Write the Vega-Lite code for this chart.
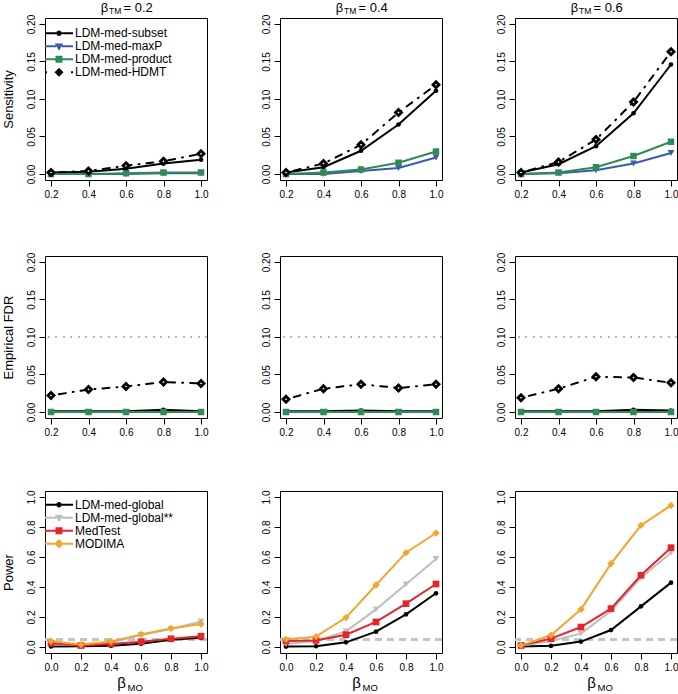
{
"$schema": "https://vega.github.io/schema/vega-lite/v6.json",
"padding": {"left": 1, "top": 0, "right": 0, "bottom": 0},
"config": {
 "font": "Liberation Sans",
 "view": {"stroke": "black", "strokeWidth": 1},
 "axis": {"domain": false, "grid": false, "tickColor": "black", "tickSize": 6, "labelFont": "Liberation Sans", "labelFontSize": 10, "labelColor": "black", "labelPadding": 3, "titleFont": "Liberation Sans", "titleFontWeight": "normal", "titleColor": "black"},
 "axisY": {"labelAngle": -90, "labelAlign": "center", "labelBaseline": "bottom"},
 "legend": {"labelFont": "Liberation Sans", "labelFontSize": 12, "labelColor": "black", "labelOffset": 1, "rowPadding": 0, "padding": 0, "symbolSize": 784, "symbolOpacity": 1, "clipHeight": 12.5}
},
"datasets": {
 "sens": [
  {"tm":0.2,"mo":0.2,"method":"LDM-med-subset","value":0.002},{"tm":0.2,"mo":0.4,"method":"LDM-med-subset","value":0.003},{"tm":0.2,"mo":0.6,"method":"LDM-med-subset","value":0.007},{"tm":0.2,"mo":0.8,"method":"LDM-med-subset","value":0.014},{"tm":0.2,"mo":1.0,"method":"LDM-med-subset","value":0.019},
  {"tm":0.2,"mo":0.2,"method":"LDM-med-maxP","value":0.0},{"tm":0.2,"mo":0.4,"method":"LDM-med-maxP","value":0.0},{"tm":0.2,"mo":0.6,"method":"LDM-med-maxP","value":0.0},{"tm":0.2,"mo":0.8,"method":"LDM-med-maxP","value":0.001},{"tm":0.2,"mo":1.0,"method":"LDM-med-maxP","value":0.001},
  {"tm":0.2,"mo":0.2,"method":"LDM-med-product","value":0.0},{"tm":0.2,"mo":0.4,"method":"LDM-med-product","value":0.0},{"tm":0.2,"mo":0.6,"method":"LDM-med-product","value":0.001},{"tm":0.2,"mo":0.8,"method":"LDM-med-product","value":0.002},{"tm":0.2,"mo":1.0,"method":"LDM-med-product","value":0.002},
  {"tm":0.2,"mo":0.2,"method":"LDM-med-HDMT","value":0.002},{"tm":0.2,"mo":0.4,"method":"LDM-med-HDMT","value":0.004},{"tm":0.2,"mo":0.6,"method":"LDM-med-HDMT","value":0.011},{"tm":0.2,"mo":0.8,"method":"LDM-med-HDMT","value":0.017},{"tm":0.2,"mo":1.0,"method":"LDM-med-HDMT","value":0.027},
  {"tm":0.4,"mo":0.2,"method":"LDM-med-subset","value":0.002},{"tm":0.4,"mo":0.4,"method":"LDM-med-subset","value":0.009},{"tm":0.4,"mo":0.6,"method":"LDM-med-subset","value":0.031},{"tm":0.4,"mo":0.8,"method":"LDM-med-subset","value":0.066},{"tm":0.4,"mo":1.0,"method":"LDM-med-subset","value":0.111},
  {"tm":0.4,"mo":0.2,"method":"LDM-med-maxP","value":0.0},{"tm":0.4,"mo":0.4,"method":"LDM-med-maxP","value":0.0},{"tm":0.4,"mo":0.6,"method":"LDM-med-maxP","value":0.004},{"tm":0.4,"mo":0.8,"method":"LDM-med-maxP","value":0.008},{"tm":0.4,"mo":1.0,"method":"LDM-med-maxP","value":0.022},
  {"tm":0.4,"mo":0.2,"method":"LDM-med-product","value":0.0},{"tm":0.4,"mo":0.4,"method":"LDM-med-product","value":0.002},{"tm":0.4,"mo":0.6,"method":"LDM-med-product","value":0.006},{"tm":0.4,"mo":0.8,"method":"LDM-med-product","value":0.015},{"tm":0.4,"mo":1.0,"method":"LDM-med-product","value":0.030},
  {"tm":0.4,"mo":0.2,"method":"LDM-med-HDMT","value":0.002},{"tm":0.4,"mo":0.4,"method":"LDM-med-HDMT","value":0.014},{"tm":0.4,"mo":0.6,"method":"LDM-med-HDMT","value":0.039},{"tm":0.4,"mo":0.8,"method":"LDM-med-HDMT","value":0.082},{"tm":0.4,"mo":1.0,"method":"LDM-med-HDMT","value":0.119},
  {"tm":0.6,"mo":0.2,"method":"LDM-med-subset","value":0.002},{"tm":0.6,"mo":0.4,"method":"LDM-med-subset","value":0.013},{"tm":0.6,"mo":0.6,"method":"LDM-med-subset","value":0.037},{"tm":0.6,"mo":0.8,"method":"LDM-med-subset","value":0.081},{"tm":0.6,"mo":1.0,"method":"LDM-med-subset","value":0.146},
  {"tm":0.6,"mo":0.2,"method":"LDM-med-maxP","value":0.0},{"tm":0.6,"mo":0.4,"method":"LDM-med-maxP","value":0.001},{"tm":0.6,"mo":0.6,"method":"LDM-med-maxP","value":0.005},{"tm":0.6,"mo":0.8,"method":"LDM-med-maxP","value":0.014},{"tm":0.6,"mo":1.0,"method":"LDM-med-maxP","value":0.028},
  {"tm":0.6,"mo":0.2,"method":"LDM-med-product","value":0.0},{"tm":0.6,"mo":0.4,"method":"LDM-med-product","value":0.002},{"tm":0.6,"mo":0.6,"method":"LDM-med-product","value":0.009},{"tm":0.6,"mo":0.8,"method":"LDM-med-product","value":0.024},{"tm":0.6,"mo":1.0,"method":"LDM-med-product","value":0.043},
  {"tm":0.6,"mo":0.2,"method":"LDM-med-HDMT","value":0.002},{"tm":0.6,"mo":0.4,"method":"LDM-med-HDMT","value":0.016},{"tm":0.6,"mo":0.6,"method":"LDM-med-HDMT","value":0.046},{"tm":0.6,"mo":0.8,"method":"LDM-med-HDMT","value":0.096},{"tm":0.6,"mo":1.0,"method":"LDM-med-HDMT","value":0.163}
 ],
 "fdr": [
  {"tm":0.2,"mo":0.2,"method":"LDM-med-subset","value":0.001},{"tm":0.2,"mo":0.4,"method":"LDM-med-subset","value":0.001},{"tm":0.2,"mo":0.6,"method":"LDM-med-subset","value":0.001},{"tm":0.2,"mo":0.8,"method":"LDM-med-subset","value":0.003},{"tm":0.2,"mo":1.0,"method":"LDM-med-subset","value":0.001},
  {"tm":0.2,"mo":0.2,"method":"LDM-med-maxP","value":0.0},{"tm":0.2,"mo":0.4,"method":"LDM-med-maxP","value":0.0},{"tm":0.2,"mo":0.6,"method":"LDM-med-maxP","value":0.0},{"tm":0.2,"mo":0.8,"method":"LDM-med-maxP","value":0.0},{"tm":0.2,"mo":1.0,"method":"LDM-med-maxP","value":0.0},
  {"tm":0.2,"mo":0.2,"method":"LDM-med-product","value":0.0},{"tm":0.2,"mo":0.4,"method":"LDM-med-product","value":0.0},{"tm":0.2,"mo":0.6,"method":"LDM-med-product","value":0.0},{"tm":0.2,"mo":0.8,"method":"LDM-med-product","value":0.0},{"tm":0.2,"mo":1.0,"method":"LDM-med-product","value":0.0},
  {"tm":0.2,"mo":0.2,"method":"LDM-med-HDMT","value":0.022},{"tm":0.2,"mo":0.4,"method":"LDM-med-HDMT","value":0.030},{"tm":0.2,"mo":0.6,"method":"LDM-med-HDMT","value":0.034},{"tm":0.2,"mo":0.8,"method":"LDM-med-HDMT","value":0.040},{"tm":0.2,"mo":1.0,"method":"LDM-med-HDMT","value":0.038},
  {"tm":0.4,"mo":0.2,"method":"LDM-med-subset","value":0.001},{"tm":0.4,"mo":0.4,"method":"LDM-med-subset","value":0.001},{"tm":0.4,"mo":0.6,"method":"LDM-med-subset","value":0.002},{"tm":0.4,"mo":0.8,"method":"LDM-med-subset","value":0.001},{"tm":0.4,"mo":1.0,"method":"LDM-med-subset","value":0.001},
  {"tm":0.4,"mo":0.2,"method":"LDM-med-maxP","value":0.0},{"tm":0.4,"mo":0.4,"method":"LDM-med-maxP","value":0.0},{"tm":0.4,"mo":0.6,"method":"LDM-med-maxP","value":0.0},{"tm":0.4,"mo":0.8,"method":"LDM-med-maxP","value":0.0},{"tm":0.4,"mo":1.0,"method":"LDM-med-maxP","value":0.0},
  {"tm":0.4,"mo":0.2,"method":"LDM-med-product","value":0.0},{"tm":0.4,"mo":0.4,"method":"LDM-med-product","value":0.0},{"tm":0.4,"mo":0.6,"method":"LDM-med-product","value":0.0},{"tm":0.4,"mo":0.8,"method":"LDM-med-product","value":0.0},{"tm":0.4,"mo":1.0,"method":"LDM-med-product","value":0.0},
  {"tm":0.4,"mo":0.2,"method":"LDM-med-HDMT","value":0.017},{"tm":0.4,"mo":0.4,"method":"LDM-med-HDMT","value":0.031},{"tm":0.4,"mo":0.6,"method":"LDM-med-HDMT","value":0.037},{"tm":0.4,"mo":0.8,"method":"LDM-med-HDMT","value":0.032},{"tm":0.4,"mo":1.0,"method":"LDM-med-HDMT","value":0.037},
  {"tm":0.6,"mo":0.2,"method":"LDM-med-subset","value":0.001},{"tm":0.6,"mo":0.4,"method":"LDM-med-subset","value":0.001},{"tm":0.6,"mo":0.6,"method":"LDM-med-subset","value":0.001},{"tm":0.6,"mo":0.8,"method":"LDM-med-subset","value":0.003},{"tm":0.6,"mo":1.0,"method":"LDM-med-subset","value":0.002},
  {"tm":0.6,"mo":0.2,"method":"LDM-med-maxP","value":0.0},{"tm":0.6,"mo":0.4,"method":"LDM-med-maxP","value":0.0},{"tm":0.6,"mo":0.6,"method":"LDM-med-maxP","value":0.0},{"tm":0.6,"mo":0.8,"method":"LDM-med-maxP","value":0.0},{"tm":0.6,"mo":1.0,"method":"LDM-med-maxP","value":0.0},
  {"tm":0.6,"mo":0.2,"method":"LDM-med-product","value":0.0},{"tm":0.6,"mo":0.4,"method":"LDM-med-product","value":0.0},{"tm":0.6,"mo":0.6,"method":"LDM-med-product","value":0.0},{"tm":0.6,"mo":0.8,"method":"LDM-med-product","value":0.0},{"tm":0.6,"mo":1.0,"method":"LDM-med-product","value":0.0},
  {"tm":0.6,"mo":0.2,"method":"LDM-med-HDMT","value":0.019},{"tm":0.6,"mo":0.4,"method":"LDM-med-HDMT","value":0.031},{"tm":0.6,"mo":0.6,"method":"LDM-med-HDMT","value":0.047},{"tm":0.6,"mo":0.8,"method":"LDM-med-HDMT","value":0.046},{"tm":0.6,"mo":1.0,"method":"LDM-med-HDMT","value":0.039}
 ],
 "power": [
  {"tm":0.2,"mo":0.0,"method":"LDM-med-global","value":0.004},{"tm":0.2,"mo":0.2,"method":"LDM-med-global","value":0.005},{"tm":0.2,"mo":0.4,"method":"LDM-med-global","value":0.008},{"tm":0.2,"mo":0.6,"method":"LDM-med-global","value":0.022},{"tm":0.2,"mo":0.8,"method":"LDM-med-global","value":0.048},{"tm":0.2,"mo":1.0,"method":"LDM-med-global","value":0.062},
  {"tm":0.2,"mo":0.0,"method":"LDM-med-global**","value":0.020},{"tm":0.2,"mo":0.2,"method":"LDM-med-global**","value":0.010},{"tm":0.2,"mo":0.4,"method":"LDM-med-global**","value":0.030},{"tm":0.2,"mo":0.6,"method":"LDM-med-global**","value":0.080},{"tm":0.2,"mo":0.8,"method":"LDM-med-global**","value":0.120},{"tm":0.2,"mo":1.0,"method":"LDM-med-global**","value":0.170},
  {"tm":0.2,"mo":0.0,"method":"MedTest","value":0.025},{"tm":0.2,"mo":0.2,"method":"MedTest","value":0.010},{"tm":0.2,"mo":0.4,"method":"MedTest","value":0.020},{"tm":0.2,"mo":0.6,"method":"MedTest","value":0.035},{"tm":0.2,"mo":0.8,"method":"MedTest","value":0.055},{"tm":0.2,"mo":1.0,"method":"MedTest","value":0.072},
  {"tm":0.2,"mo":0.0,"method":"MODIMA","value":0.038},{"tm":0.2,"mo":0.2,"method":"MODIMA","value":0.016},{"tm":0.2,"mo":0.4,"method":"MODIMA","value":0.036},{"tm":0.2,"mo":0.6,"method":"MODIMA","value":0.084},{"tm":0.2,"mo":0.8,"method":"MODIMA","value":0.124},{"tm":0.2,"mo":1.0,"method":"MODIMA","value":0.153},
  {"tm":0.4,"mo":0.0,"method":"LDM-med-global","value":0.003},{"tm":0.4,"mo":0.2,"method":"LDM-med-global","value":0.005},{"tm":0.4,"mo":0.4,"method":"LDM-med-global","value":0.031},{"tm":0.4,"mo":0.6,"method":"LDM-med-global","value":0.102},{"tm":0.4,"mo":0.8,"method":"LDM-med-global","value":0.218},{"tm":0.4,"mo":1.0,"method":"LDM-med-global","value":0.358},
  {"tm":0.4,"mo":0.0,"method":"LDM-med-global**","value":0.020},{"tm":0.4,"mo":0.2,"method":"LDM-med-global**","value":0.040},{"tm":0.4,"mo":0.4,"method":"LDM-med-global**","value":0.104},{"tm":0.4,"mo":0.6,"method":"LDM-med-global**","value":0.251},{"tm":0.4,"mo":0.8,"method":"LDM-med-global**","value":0.418},{"tm":0.4,"mo":1.0,"method":"LDM-med-global**","value":0.587},
  {"tm":0.4,"mo":0.0,"method":"MedTest","value":0.040},{"tm":0.4,"mo":0.2,"method":"MedTest","value":0.044},{"tm":0.4,"mo":0.4,"method":"MedTest","value":0.082},{"tm":0.4,"mo":0.6,"method":"MedTest","value":0.167},{"tm":0.4,"mo":0.8,"method":"MedTest","value":0.289},{"tm":0.4,"mo":1.0,"method":"MedTest","value":0.420},
  {"tm":0.4,"mo":0.0,"method":"MODIMA","value":0.051},{"tm":0.4,"mo":0.2,"method":"MODIMA","value":0.069},{"tm":0.4,"mo":0.4,"method":"MODIMA","value":0.196},{"tm":0.4,"mo":0.6,"method":"MODIMA","value":0.413},{"tm":0.4,"mo":0.8,"method":"MODIMA","value":0.629},{"tm":0.4,"mo":1.0,"method":"MODIMA","value":0.760},
  {"tm":0.6,"mo":0.0,"method":"LDM-med-global","value":0.003},{"tm":0.6,"mo":0.2,"method":"LDM-med-global","value":0.008},{"tm":0.6,"mo":0.4,"method":"LDM-med-global","value":0.036},{"tm":0.6,"mo":0.6,"method":"LDM-med-global","value":0.113},{"tm":0.6,"mo":0.8,"method":"LDM-med-global","value":0.271},{"tm":0.6,"mo":1.0,"method":"LDM-med-global","value":0.429},
  {"tm":0.6,"mo":0.0,"method":"LDM-med-global**","value":0.008},{"tm":0.6,"mo":0.2,"method":"LDM-med-global**","value":0.040},{"tm":0.6,"mo":0.4,"method":"LDM-med-global**","value":0.089},{"tm":0.6,"mo":0.6,"method":"LDM-med-global**","value":0.240},{"tm":0.6,"mo":0.8,"method":"LDM-med-global**","value":0.462},{"tm":0.6,"mo":1.0,"method":"LDM-med-global**","value":0.629},
  {"tm":0.6,"mo":0.0,"method":"MedTest","value":0.010},{"tm":0.6,"mo":0.2,"method":"MedTest","value":0.056},{"tm":0.6,"mo":0.4,"method":"MedTest","value":0.133},{"tm":0.6,"mo":0.6,"method":"MedTest","value":0.256},{"tm":0.6,"mo":0.8,"method":"MedTest","value":0.478},{"tm":0.6,"mo":1.0,"method":"MedTest","value":0.662},
  {"tm":0.6,"mo":0.0,"method":"MODIMA","value":0.011},{"tm":0.6,"mo":0.2,"method":"MODIMA","value":0.078},{"tm":0.6,"mo":0.4,"method":"MODIMA","value":0.251},{"tm":0.6,"mo":0.6,"method":"MODIMA","value":0.556},{"tm":0.6,"mo":0.8,"method":"MODIMA","value":0.811},{"tm":0.6,"mo":1.0,"method":"MODIMA","value":0.944}
 ]
},
"columns": 3,
"align": "each",
"spacing": {"row": 51, "column": 49},
"resolve": {"scale": {"color": "independent", "shape": "independent"}, "legend": {"color": "independent", "shape": "independent"}},
"concat": [
 {
  "width": 162, "height": 162,
  "data": {"name": "sens"},
  "transform": [{"filter": "datum.tm == 0.2"}],
  "resolve": {"axis": {"x": "independent", "y": "independent"}},
  "layer": [
   {"transform": [{"filter": "datum.method == 'LDM-med-subset'"}], "mark": {"type": "line", "strokeWidth": 2, "color": "#000000"},
    "encoding": {
     "x": {"field": "mo", "type": "quantitative", "scale": {"domain": [0.168, 1.032], "nice": false, "zero": false}, "axis": {"values": [0.2, 0.4, 0.6, 0.8, 1.0], "format": ".1f", "title": null}},
     "y": {"field": "value", "type": "quantitative", "scale": {"domain": [-0.008, 0.208], "nice": false, "zero": false}, "axis": {"values": [0, 0.05, 0.1, 0.15, 0.2], "format": ".2f", "title": "Sensitivity", "titleX": -33, "titleY": 81, "titleAngle": -90, "titleAlign": "center", "titleBaseline": "alphabetic", "titleFontSize": 13}}
    }},
   {"transform": [{"filter": "datum.method == 'LDM-med-maxP'"}], "mark": {"type": "line", "strokeWidth": 2, "color": "#3B5BA5"}, "encoding": {"x": {"field": "mo", "type": "quantitative", "axis": null}, "y": {"field": "value", "type": "quantitative", "axis": null}}},
   {"transform": [{"filter": "datum.method == 'LDM-med-product'"}], "mark": {"type": "line", "strokeWidth": 2, "color": "#2E8B57"}, "encoding": {"x": {"field": "mo", "type": "quantitative", "axis": null}, "y": {"field": "value", "type": "quantitative", "axis": null}}},
   {"transform": [{"filter": "datum.method == 'LDM-med-HDMT'"}], "mark": {"type": "line", "strokeWidth": 2, "color": "#000000", "strokeDash": [1, 7, 7, 7], "strokeCap": "round"}, "encoding": {"x": {"field": "mo", "type": "quantitative", "axis": null}, "y": {"field": "value", "type": "quantitative", "axis": null}}},
   {"transform": [{"filter": "datum.method == 'LDM-med-subset'"}],
    "mark": {"type": "point", "shape": "circle", "filled": true, "size": 22, "color": "#000000", "opacity": 1},
    "encoding": {"x": {"field": "mo", "type": "quantitative", "axis": {"orient": "top", "title": "β", "labels": false, "ticks": false, "domain": false, "titleX": 59, "titleY": -7, "titleAlign": "center", "titleBaseline": "alphabetic", "titleFontSize": 13, "titleAngle": 0}}, "y": {"field": "value", "type": "quantitative", "axis": null}}},
   {"transform": [{"filter": "datum.method == 'LDM-med-maxP'"}],
    "mark": {"type": "point", "shape": "triangle-down", "filled": true, "size": 45, "color": "#3B5BA5", "opacity": 1},
    "encoding": {"x": {"field": "mo", "type": "quantitative", "axis": {"orient": "top", "title": "TM", "labels": false, "ticks": false, "domain": false, "titleX": 63.5, "titleY": -5, "titleAlign": "left", "titleBaseline": "alphabetic", "titleFontSize": 8.5, "titleAngle": 0}}, "y": {"field": "value", "type": "quantitative", "axis": null}}},
   {"transform": [{"filter": "datum.method == 'LDM-med-product'"}],
    "mark": {"type": "point", "shape": "square", "filled": true, "size": 42, "color": "#2E8B57", "opacity": 1},
    "encoding": {"x": {"field": "mo", "type": "quantitative", "axis": {"orient": "top", "title": "= 0.2", "labels": false, "ticks": false, "domain": false, "titleX": 78, "titleY": -7, "titleAlign": "left", "titleBaseline": "alphabetic", "titleFontSize": 13, "titleAngle": 0}}, "y": {"field": "value", "type": "quantitative", "axis": null}}},
   {"transform": [{"filter": "datum.method == 'LDM-med-HDMT'"}],
    "mark": {"type": "point", "shape": "diamond", "filled": true, "fill": "white", "stroke": "black", "strokeWidth": 2.8, "size": 36, "opacity": 1},
    "encoding": {"x": {"field": "mo", "type": "quantitative", "axis": null}, "y": {"field": "value", "type": "quantitative", "axis": null}}},
   {"transform": [{"filter": "datum.value < -1"}],
    "mark": {"type": "point", "filled": true, "opacity": 1},
    "encoding": {
     "color": {"field": "method", "type": "nominal", "scale": {"domain": ["LDM-med-subset", "LDM-med-maxP", "LDM-med-product", "LDM-med-HDMT"], "range": ["#000000", "#3B5BA5", "#2E8B57", "#000000"]}, "legend": {"orient": "none", "legendX": -1, "legendY": 9, "title": null}},
     "shape": {"field": "method", "type": "nominal", "scale": {"domain": ["LDM-med-subset", "LDM-med-maxP", "LDM-med-product", "LDM-med-HDMT"], "range": ["M-1,-0.072H-0.19V0.072H-1ZM0.19,-0.072H1V0.072H0.19ZM-0.19,0A0.19,0.19,0,1,1,0.19,0A0.19,0.19,0,1,1,-0.19,0Z", "M-1,-0.072H-0.2V0.072H-1ZM0.2,-0.072H1V0.072H0.2ZM-0.3,-0.2H0.3L0,0.32Z", "M-1,-0.072H-0.2V0.072H-1ZM0.2,-0.072H1V0.072H0.2ZM-0.25,-0.25H0.25V0.25H-0.25Z", "M-1,-0.072H-0.86V0.072H-1ZM0.86,-0.072H1V0.072H0.86ZM0,-0.32L0.32,0L0,0.32L-0.32,0Z"]}, "legend": {"orient": "none", "legendX": -1, "legendY": 9, "title": null}}
    }}
  ]
 },
 {
  "width": 162, "height": 162,
  "data": {"name": "sens"},
  "transform": [{"filter": "datum.tm == 0.4"}],
  "resolve": {"axis": {"x": "independent", "y": "independent"}},
  "layer": [
   {"transform": [{"filter": "datum.method == 'LDM-med-subset'"}], "mark": {"type": "line", "strokeWidth": 2, "color": "#000000"},
    "encoding": {
     "x": {"field": "mo", "type": "quantitative", "scale": {"domain": [0.168, 1.032], "nice": false, "zero": false}, "axis": {"values": [0.2, 0.4, 0.6, 0.8, 1.0], "format": ".1f", "title": null}},
     "y": {"field": "value", "type": "quantitative", "scale": {"domain": [-0.008, 0.208], "nice": false, "zero": false}, "axis": {"values": [0, 0.05, 0.1, 0.15, 0.2], "format": ".2f", "title": null}}
    }},
   {"transform": [{"filter": "datum.method == 'LDM-med-maxP'"}], "mark": {"type": "line", "strokeWidth": 2, "color": "#3B5BA5"}, "encoding": {"x": {"field": "mo", "type": "quantitative", "axis": null}, "y": {"field": "value", "type": "quantitative", "axis": null}}},
   {"transform": [{"filter": "datum.method == 'LDM-med-product'"}], "mark": {"type": "line", "strokeWidth": 2, "color": "#2E8B57"}, "encoding": {"x": {"field": "mo", "type": "quantitative", "axis": null}, "y": {"field": "value", "type": "quantitative", "axis": null}}},
   {"transform": [{"filter": "datum.method == 'LDM-med-HDMT'"}], "mark": {"type": "line", "strokeWidth": 2, "color": "#000000", "strokeDash": [1, 7, 7, 7], "strokeCap": "round"}, "encoding": {"x": {"field": "mo", "type": "quantitative", "axis": null}, "y": {"field": "value", "type": "quantitative", "axis": null}}},
   {"transform": [{"filter": "datum.method == 'LDM-med-subset'"}],
    "mark": {"type": "point", "shape": "circle", "filled": true, "size": 22, "color": "#000000", "opacity": 1},
    "encoding": {"x": {"field": "mo", "type": "quantitative", "axis": {"orient": "top", "title": "β", "labels": false, "ticks": false, "domain": false, "titleX": 59, "titleY": -7, "titleAlign": "center", "titleBaseline": "alphabetic", "titleFontSize": 13, "titleAngle": 0}}, "y": {"field": "value", "type": "quantitative", "axis": null}}},
   {"transform": [{"filter": "datum.method == 'LDM-med-maxP'"}],
    "mark": {"type": "point", "shape": "triangle-down", "filled": true, "size": 45, "color": "#3B5BA5", "opacity": 1},
    "encoding": {"x": {"field": "mo", "type": "quantitative", "axis": {"orient": "top", "title": "TM", "labels": false, "ticks": false, "domain": false, "titleX": 63.5, "titleY": -5, "titleAlign": "left", "titleBaseline": "alphabetic", "titleFontSize": 8.5, "titleAngle": 0}}, "y": {"field": "value", "type": "quantitative", "axis": null}}},
   {"transform": [{"filter": "datum.method == 'LDM-med-product'"}],
    "mark": {"type": "point", "shape": "square", "filled": true, "size": 42, "color": "#2E8B57", "opacity": 1},
    "encoding": {"x": {"field": "mo", "type": "quantitative", "axis": {"orient": "top", "title": "= 0.4", "labels": false, "ticks": false, "domain": false, "titleX": 78, "titleY": -7, "titleAlign": "left", "titleBaseline": "alphabetic", "titleFontSize": 13, "titleAngle": 0}}, "y": {"field": "value", "type": "quantitative", "axis": null}}},
   {"transform": [{"filter": "datum.method == 'LDM-med-HDMT'"}],
    "mark": {"type": "point", "shape": "diamond", "filled": true, "fill": "white", "stroke": "black", "strokeWidth": 2.8, "size": 36, "opacity": 1},
    "encoding": {"x": {"field": "mo", "type": "quantitative", "axis": null}, "y": {"field": "value", "type": "quantitative", "axis": null}}}
  ]
 },
 {
  "width": 162, "height": 162,
  "data": {"name": "sens"},
  "transform": [{"filter": "datum.tm == 0.6"}],
  "resolve": {"axis": {"x": "independent", "y": "independent"}},
  "layer": [
   {"transform": [{"filter": "datum.method == 'LDM-med-subset'"}], "mark": {"type": "line", "strokeWidth": 2, "color": "#000000"},
    "encoding": {
     "x": {"field": "mo", "type": "quantitative", "scale": {"domain": [0.168, 1.032], "nice": false, "zero": false}, "axis": {"values": [0.2, 0.4, 0.6, 0.8, 1.0], "format": ".1f", "title": null}},
     "y": {"field": "value", "type": "quantitative", "scale": {"domain": [-0.008, 0.208], "nice": false, "zero": false}, "axis": {"values": [0, 0.05, 0.1, 0.15, 0.2], "format": ".2f", "title": null}}
    }},
   {"transform": [{"filter": "datum.method == 'LDM-med-maxP'"}], "mark": {"type": "line", "strokeWidth": 2, "color": "#3B5BA5"}, "encoding": {"x": {"field": "mo", "type": "quantitative", "axis": null}, "y": {"field": "value", "type": "quantitative", "axis": null}}},
   {"transform": [{"filter": "datum.method == 'LDM-med-product'"}], "mark": {"type": "line", "strokeWidth": 2, "color": "#2E8B57"}, "encoding": {"x": {"field": "mo", "type": "quantitative", "axis": null}, "y": {"field": "value", "type": "quantitative", "axis": null}}},
   {"transform": [{"filter": "datum.method == 'LDM-med-HDMT'"}], "mark": {"type": "line", "strokeWidth": 2, "color": "#000000", "strokeDash": [1, 7, 7, 7], "strokeCap": "round"}, "encoding": {"x": {"field": "mo", "type": "quantitative", "axis": null}, "y": {"field": "value", "type": "quantitative", "axis": null}}},
   {"transform": [{"filter": "datum.method == 'LDM-med-subset'"}],
    "mark": {"type": "point", "shape": "circle", "filled": true, "size": 22, "color": "#000000", "opacity": 1},
    "encoding": {"x": {"field": "mo", "type": "quantitative", "axis": {"orient": "top", "title": "β", "labels": false, "ticks": false, "domain": false, "titleX": 59, "titleY": -7, "titleAlign": "center", "titleBaseline": "alphabetic", "titleFontSize": 13, "titleAngle": 0}}, "y": {"field": "value", "type": "quantitative", "axis": null}}},
   {"transform": [{"filter": "datum.method == 'LDM-med-maxP'"}],
    "mark": {"type": "point", "shape": "triangle-down", "filled": true, "size": 45, "color": "#3B5BA5", "opacity": 1},
    "encoding": {"x": {"field": "mo", "type": "quantitative", "axis": {"orient": "top", "title": "TM", "labels": false, "ticks": false, "domain": false, "titleX": 63.5, "titleY": -5, "titleAlign": "left", "titleBaseline": "alphabetic", "titleFontSize": 8.5, "titleAngle": 0}}, "y": {"field": "value", "type": "quantitative", "axis": null}}},
   {"transform": [{"filter": "datum.method == 'LDM-med-product'"}],
    "mark": {"type": "point", "shape": "square", "filled": true, "size": 42, "color": "#2E8B57", "opacity": 1},
    "encoding": {"x": {"field": "mo", "type": "quantitative", "axis": {"orient": "top", "title": "= 0.6", "labels": false, "ticks": false, "domain": false, "titleX": 78, "titleY": -7, "titleAlign": "left", "titleBaseline": "alphabetic", "titleFontSize": 13, "titleAngle": 0}}, "y": {"field": "value", "type": "quantitative", "axis": null}}},
   {"transform": [{"filter": "datum.method == 'LDM-med-HDMT'"}],
    "mark": {"type": "point", "shape": "diamond", "filled": true, "fill": "white", "stroke": "black", "strokeWidth": 2.8, "size": 36, "opacity": 1},
    "encoding": {"x": {"field": "mo", "type": "quantitative", "axis": null}, "y": {"field": "value", "type": "quantitative", "axis": null}}}
  ]
 },
 {
  "width": 162, "height": 162,
  "data": {"name": "fdr"},
  "transform": [{"filter": "datum.tm == 0.2"}],
  "resolve": {"axis": {"x": "independent", "y": "independent"}},
  "layer": [
   {"mark": {"type": "rule", "color": "#BBBBBB", "strokeWidth": 1.5, "strokeDash": [1.5, 6]}, "encoding": {"y": {"datum": 0.1, "axis": null}}},
   {"transform": [{"filter": "datum.method == 'LDM-med-subset'"}], "mark": {"type": "line", "strokeWidth": 2, "color": "#000000"},
    "encoding": {
     "x": {"field": "mo", "type": "quantitative", "scale": {"domain": [0.168, 1.032], "nice": false, "zero": false}, "axis": {"values": [0.2, 0.4, 0.6, 0.8, 1.0], "format": ".1f", "title": null}},
     "y": {"field": "value", "type": "quantitative", "scale": {"domain": [-0.008, 0.208], "nice": false, "zero": false}, "axis": {"values": [0, 0.05, 0.1, 0.15, 0.2], "format": ".2f", "title": "Empirical FDR", "titleX": -33, "titleY": 81, "titleAngle": -90, "titleAlign": "center", "titleBaseline": "alphabetic", "titleFontSize": 13}}
    }},
   {"transform": [{"filter": "datum.method == 'LDM-med-maxP'"}], "mark": {"type": "line", "strokeWidth": 2, "color": "#3B5BA5"}, "encoding": {"x": {"field": "mo", "type": "quantitative", "axis": null}, "y": {"field": "value", "type": "quantitative", "axis": null}}},
   {"transform": [{"filter": "datum.method == 'LDM-med-product'"}], "mark": {"type": "line", "strokeWidth": 2, "color": "#2E8B57"}, "encoding": {"x": {"field": "mo", "type": "quantitative", "axis": null}, "y": {"field": "value", "type": "quantitative", "axis": null}}},
   {"transform": [{"filter": "datum.method == 'LDM-med-HDMT'"}], "mark": {"type": "line", "strokeWidth": 2, "color": "#000000", "strokeDash": [1, 7, 7, 7], "strokeCap": "round"}, "encoding": {"x": {"field": "mo", "type": "quantitative", "axis": null}, "y": {"field": "value", "type": "quantitative", "axis": null}}},
   {"transform": [{"filter": "datum.method == 'LDM-med-subset'"}], "mark": {"type": "point", "shape": "circle", "filled": true, "size": 22, "color": "#000000", "opacity": 1}, "encoding": {"x": {"field": "mo", "type": "quantitative", "axis": null}, "y": {"field": "value", "type": "quantitative", "axis": null}}},
   {"transform": [{"filter": "datum.method == 'LDM-med-maxP'"}], "mark": {"type": "point", "shape": "triangle-down", "filled": true, "size": 45, "color": "#3B5BA5", "opacity": 1}, "encoding": {"x": {"field": "mo", "type": "quantitative", "axis": null}, "y": {"field": "value", "type": "quantitative", "axis": null}}},
   {"transform": [{"filter": "datum.method == 'LDM-med-product'"}], "mark": {"type": "point", "shape": "square", "filled": true, "size": 42, "color": "#2E8B57", "opacity": 1}, "encoding": {"x": {"field": "mo", "type": "quantitative", "axis": null}, "y": {"field": "value", "type": "quantitative", "axis": null}}},
   {"transform": [{"filter": "datum.method == 'LDM-med-HDMT'"}], "mark": {"type": "point", "shape": "diamond", "filled": true, "fill": "white", "stroke": "black", "strokeWidth": 2.8, "size": 36, "opacity": 1}, "encoding": {"x": {"field": "mo", "type": "quantitative", "axis": null}, "y": {"field": "value", "type": "quantitative", "axis": null}}}
  ]
 },
 {
  "width": 162, "height": 162,
  "data": {"name": "fdr"},
  "transform": [{"filter": "datum.tm == 0.4"}],
  "resolve": {"axis": {"x": "independent", "y": "independent"}},
  "layer": [
   {"mark": {"type": "rule", "color": "#BBBBBB", "strokeWidth": 1.5, "strokeDash": [1.5, 6]}, "encoding": {"y": {"datum": 0.1, "axis": null}}},
   {"transform": [{"filter": "datum.method == 'LDM-med-subset'"}], "mark": {"type": "line", "strokeWidth": 2, "color": "#000000"},
    "encoding": {
     "x": {"field": "mo", "type": "quantitative", "scale": {"domain": [0.168, 1.032], "nice": false, "zero": false}, "axis": {"values": [0.2, 0.4, 0.6, 0.8, 1.0], "format": ".1f", "title": null}},
     "y": {"field": "value", "type": "quantitative", "scale": {"domain": [-0.008, 0.208], "nice": false, "zero": false}, "axis": {"values": [0, 0.05, 0.1, 0.15, 0.2], "format": ".2f", "title": null}}
    }},
   {"transform": [{"filter": "datum.method == 'LDM-med-maxP'"}], "mark": {"type": "line", "strokeWidth": 2, "color": "#3B5BA5"}, "encoding": {"x": {"field": "mo", "type": "quantitative", "axis": null}, "y": {"field": "value", "type": "quantitative", "axis": null}}},
   {"transform": [{"filter": "datum.method == 'LDM-med-product'"}], "mark": {"type": "line", "strokeWidth": 2, "color": "#2E8B57"}, "encoding": {"x": {"field": "mo", "type": "quantitative", "axis": null}, "y": {"field": "value", "type": "quantitative", "axis": null}}},
   {"transform": [{"filter": "datum.method == 'LDM-med-HDMT'"}], "mark": {"type": "line", "strokeWidth": 2, "color": "#000000", "strokeDash": [1, 7, 7, 7], "strokeCap": "round"}, "encoding": {"x": {"field": "mo", "type": "quantitative", "axis": null}, "y": {"field": "value", "type": "quantitative", "axis": null}}},
   {"transform": [{"filter": "datum.method == 'LDM-med-subset'"}], "mark": {"type": "point", "shape": "circle", "filled": true, "size": 22, "color": "#000000", "opacity": 1}, "encoding": {"x": {"field": "mo", "type": "quantitative", "axis": null}, "y": {"field": "value", "type": "quantitative", "axis": null}}},
   {"transform": [{"filter": "datum.method == 'LDM-med-maxP'"}], "mark": {"type": "point", "shape": "triangle-down", "filled": true, "size": 45, "color": "#3B5BA5", "opacity": 1}, "encoding": {"x": {"field": "mo", "type": "quantitative", "axis": null}, "y": {"field": "value", "type": "quantitative", "axis": null}}},
   {"transform": [{"filter": "datum.method == 'LDM-med-product'"}], "mark": {"type": "point", "shape": "square", "filled": true, "size": 42, "color": "#2E8B57", "opacity": 1}, "encoding": {"x": {"field": "mo", "type": "quantitative", "axis": null}, "y": {"field": "value", "type": "quantitative", "axis": null}}},
   {"transform": [{"filter": "datum.method == 'LDM-med-HDMT'"}], "mark": {"type": "point", "shape": "diamond", "filled": true, "fill": "white", "stroke": "black", "strokeWidth": 2.8, "size": 36, "opacity": 1}, "encoding": {"x": {"field": "mo", "type": "quantitative", "axis": null}, "y": {"field": "value", "type": "quantitative", "axis": null}}}
  ]
 },
 {
  "width": 162, "height": 162,
  "data": {"name": "fdr"},
  "transform": [{"filter": "datum.tm == 0.6"}],
  "resolve": {"axis": {"x": "independent", "y": "independent"}},
  "layer": [
   {"mark": {"type": "rule", "color": "#BBBBBB", "strokeWidth": 1.5, "strokeDash": [1.5, 6]}, "encoding": {"y": {"datum": 0.1, "axis": null}}},
   {"transform": [{"filter": "datum.method == 'LDM-med-subset'"}], "mark": {"type": "line", "strokeWidth": 2, "color": "#000000"},
    "encoding": {
     "x": {"field": "mo", "type": "quantitative", "scale": {"domain": [0.168, 1.032], "nice": false, "zero": false}, "axis": {"values": [0.2, 0.4, 0.6, 0.8, 1.0], "format": ".1f", "title": null}},
     "y": {"field": "value", "type": "quantitative", "scale": {"domain": [-0.008, 0.208], "nice": false, "zero": false}, "axis": {"values": [0, 0.05, 0.1, 0.15, 0.2], "format": ".2f", "title": null}}
    }},
   {"transform": [{"filter": "datum.method == 'LDM-med-maxP'"}], "mark": {"type": "line", "strokeWidth": 2, "color": "#3B5BA5"}, "encoding": {"x": {"field": "mo", "type": "quantitative", "axis": null}, "y": {"field": "value", "type": "quantitative", "axis": null}}},
   {"transform": [{"filter": "datum.method == 'LDM-med-product'"}], "mark": {"type": "line", "strokeWidth": 2, "color": "#2E8B57"}, "encoding": {"x": {"field": "mo", "type": "quantitative", "axis": null}, "y": {"field": "value", "type": "quantitative", "axis": null}}},
   {"transform": [{"filter": "datum.method == 'LDM-med-HDMT'"}], "mark": {"type": "line", "strokeWidth": 2, "color": "#000000", "strokeDash": [1, 7, 7, 7], "strokeCap": "round"}, "encoding": {"x": {"field": "mo", "type": "quantitative", "axis": null}, "y": {"field": "value", "type": "quantitative", "axis": null}}},
   {"transform": [{"filter": "datum.method == 'LDM-med-subset'"}], "mark": {"type": "point", "shape": "circle", "filled": true, "size": 22, "color": "#000000", "opacity": 1}, "encoding": {"x": {"field": "mo", "type": "quantitative", "axis": null}, "y": {"field": "value", "type": "quantitative", "axis": null}}},
   {"transform": [{"filter": "datum.method == 'LDM-med-maxP'"}], "mark": {"type": "point", "shape": "triangle-down", "filled": true, "size": 45, "color": "#3B5BA5", "opacity": 1}, "encoding": {"x": {"field": "mo", "type": "quantitative", "axis": null}, "y": {"field": "value", "type": "quantitative", "axis": null}}},
   {"transform": [{"filter": "datum.method == 'LDM-med-product'"}], "mark": {"type": "point", "shape": "square", "filled": true, "size": 42, "color": "#2E8B57", "opacity": 1}, "encoding": {"x": {"field": "mo", "type": "quantitative", "axis": null}, "y": {"field": "value", "type": "quantitative", "axis": null}}},
   {"transform": [{"filter": "datum.method == 'LDM-med-HDMT'"}], "mark": {"type": "point", "shape": "diamond", "filled": true, "fill": "white", "stroke": "black", "strokeWidth": 2.8, "size": 36, "opacity": 1}, "encoding": {"x": {"field": "mo", "type": "quantitative", "axis": null}, "y": {"field": "value", "type": "quantitative", "axis": null}}}
  ]
 },
 {
  "width": 162, "height": 162,
  "data": {"name": "power"},
  "transform": [{"filter": "datum.tm == 0.2"}],
  "resolve": {"axis": {"x": "independent", "y": "independent"}},
  "layer": [
   {"mark": {"type": "rule", "color": "#C4C4C4", "strokeWidth": 2, "strokeDash": [7, 5]}, "encoding": {"y": {"datum": 0.05, "axis": null}}},
   {"transform": [{"filter": "datum.method == 'LDM-med-global'"}], "mark": {"type": "line", "strokeWidth": 2, "color": "#000000"},
    "encoding": {
     "x": {"field": "mo", "type": "quantitative", "scale": {"domain": [-0.04, 1.04], "nice": false, "zero": false}, "axis": {"values": [0, 0.2, 0.4, 0.6, 0.8, 1.0], "format": ".1f", "title": "β", "titleX": 76, "titleY": 34, "titleAlign": "center", "titleBaseline": "alphabetic", "titleFontSize": 15, "titleAngle": 0}},
     "y": {"field": "value", "type": "quantitative", "scale": {"domain": [-0.04, 1.04], "nice": false, "zero": false}, "axis": {"values": [0, 0.2, 0.4, 0.6, 0.8, 1.0], "format": ".1f", "title": "Power", "titleX": -33, "titleY": 81, "titleAngle": -90, "titleAlign": "center", "titleBaseline": "alphabetic", "titleFontSize": 13}}
    }},
   {"transform": [{"filter": "datum.method == 'LDM-med-global**'"}], "mark": {"type": "line", "strokeWidth": 2, "color": "#BEBEBE"}, "encoding": {"x": {"field": "mo", "type": "quantitative", "axis": null}, "y": {"field": "value", "type": "quantitative", "axis": null}}},
   {"transform": [{"filter": "datum.method == 'MedTest'"}], "mark": {"type": "line", "strokeWidth": 2, "color": "#E3262B"}, "encoding": {"x": {"field": "mo", "type": "quantitative", "axis": null}, "y": {"field": "value", "type": "quantitative", "axis": null}}},
   {"transform": [{"filter": "datum.method == 'MODIMA'"}], "mark": {"type": "line", "strokeWidth": 2, "color": "#F2A52F"}, "encoding": {"x": {"field": "mo", "type": "quantitative", "axis": null}, "y": {"field": "value", "type": "quantitative", "axis": null}}},
   {"transform": [{"filter": "datum.method == 'LDM-med-global'"}],
    "mark": {"type": "point", "shape": "circle", "filled": true, "size": 22, "color": "#000000", "opacity": 1},
    "encoding": {"x": {"field": "mo", "type": "quantitative", "axis": {"orient": "bottom", "title": "MO", "labels": false, "ticks": false, "domain": false, "titleX": 82, "titleY": 37, "titleAlign": "left", "titleBaseline": "alphabetic", "titleFontSize": 9.5, "titleAngle": 0}}, "y": {"field": "value", "type": "quantitative", "axis": null}}},
   {"transform": [{"filter": "datum.method == 'LDM-med-global**'"}], "mark": {"type": "point", "shape": "triangle-down", "filled": true, "size": 45, "color": "#BEBEBE", "opacity": 1}, "encoding": {"x": {"field": "mo", "type": "quantitative", "axis": null}, "y": {"field": "value", "type": "quantitative", "axis": null}}},
   {"transform": [{"filter": "datum.method == 'MedTest'"}], "mark": {"type": "point", "shape": "square", "filled": true, "size": 45, "color": "#E3262B", "opacity": 1}, "encoding": {"x": {"field": "mo", "type": "quantitative", "axis": null}, "y": {"field": "value", "type": "quantitative", "axis": null}}},
   {"transform": [{"filter": "datum.method == 'MODIMA'"}], "mark": {"type": "point", "shape": "diamond", "filled": true, "size": 55, "color": "#F2A52F", "opacity": 1}, "encoding": {"x": {"field": "mo", "type": "quantitative", "axis": null}, "y": {"field": "value", "type": "quantitative", "axis": null}}},
   {"transform": [{"filter": "datum.value < -1"}],
    "mark": {"type": "point", "filled": true, "opacity": 1},
    "encoding": {
     "color": {"field": "method", "type": "nominal", "scale": {"domain": ["LDM-med-global", "LDM-med-global**", "MedTest", "MODIMA"], "range": ["#000000", "#BEBEBE", "#E3262B", "#F2A52F"]}, "legend": {"orient": "none", "legendX": -1, "legendY": 7.5, "title": null}},
     "shape": {"field": "method", "type": "nominal", "scale": {"domain": ["LDM-med-global", "LDM-med-global**", "MedTest", "MODIMA"], "range": ["M-1,-0.072H-0.19V0.072H-1ZM0.19,-0.072H1V0.072H0.19ZM-0.19,0A0.19,0.19,0,1,1,0.19,0A0.19,0.19,0,1,1,-0.19,0Z", "M-1,-0.072H-0.2V0.072H-1ZM0.2,-0.072H1V0.072H0.2ZM-0.3,-0.2H0.3L0,0.32Z", "M-1,-0.072H-0.2V0.072H-1ZM0.2,-0.072H1V0.072H0.2ZM-0.25,-0.25H0.25V0.25H-0.25Z", "M-1,-0.072H-0.3V0.072H-1ZM0.3,-0.072H1V0.072H0.3ZM0,-0.34L0.34,0L0,0.34L-0.34,0Z"]}, "legend": {"orient": "none", "legendX": -1, "legendY": 7.5, "title": null}}
    }}
  ]
 },
 {
  "width": 162, "height": 162,
  "data": {"name": "power"},
  "transform": [{"filter": "datum.tm == 0.4"}],
  "resolve": {"axis": {"x": "independent", "y": "independent"}},
  "layer": [
   {"mark": {"type": "rule", "color": "#C4C4C4", "strokeWidth": 2, "strokeDash": [7, 5]}, "encoding": {"y": {"datum": 0.05, "axis": null}}},
   {"transform": [{"filter": "datum.method == 'LDM-med-global'"}], "mark": {"type": "line", "strokeWidth": 2, "color": "#000000"},
    "encoding": {
     "x": {"field": "mo", "type": "quantitative", "scale": {"domain": [-0.04, 1.04], "nice": false, "zero": false}, "axis": {"values": [0, 0.2, 0.4, 0.6, 0.8, 1.0], "format": ".1f", "title": "β", "titleX": 76, "titleY": 34, "titleAlign": "center", "titleBaseline": "alphabetic", "titleFontSize": 15, "titleAngle": 0}},
     "y": {"field": "value", "type": "quantitative", "scale": {"domain": [-0.04, 1.04], "nice": false, "zero": false}, "axis": {"values": [0, 0.2, 0.4, 0.6, 0.8, 1.0], "format": ".1f", "title": null}}
    }},
   {"transform": [{"filter": "datum.method == 'LDM-med-global**'"}], "mark": {"type": "line", "strokeWidth": 2, "color": "#BEBEBE"}, "encoding": {"x": {"field": "mo", "type": "quantitative", "axis": null}, "y": {"field": "value", "type": "quantitative", "axis": null}}},
   {"transform": [{"filter": "datum.method == 'MedTest'"}], "mark": {"type": "line", "strokeWidth": 2, "color": "#E3262B"}, "encoding": {"x": {"field": "mo", "type": "quantitative", "axis": null}, "y": {"field": "value", "type": "quantitative", "axis": null}}},
   {"transform": [{"filter": "datum.method == 'MODIMA'"}], "mark": {"type": "line", "strokeWidth": 2, "color": "#F2A52F"}, "encoding": {"x": {"field": "mo", "type": "quantitative", "axis": null}, "y": {"field": "value", "type": "quantitative", "axis": null}}},
   {"transform": [{"filter": "datum.method == 'LDM-med-global'"}],
    "mark": {"type": "point", "shape": "circle", "filled": true, "size": 22, "color": "#000000", "opacity": 1},
    "encoding": {"x": {"field": "mo", "type": "quantitative", "axis": {"orient": "bottom", "title": "MO", "labels": false, "ticks": false, "domain": false, "titleX": 82, "titleY": 37, "titleAlign": "left", "titleBaseline": "alphabetic", "titleFontSize": 9.5, "titleAngle": 0}}, "y": {"field": "value", "type": "quantitative", "axis": null}}},
   {"transform": [{"filter": "datum.method == 'LDM-med-global**'"}], "mark": {"type": "point", "shape": "triangle-down", "filled": true, "size": 45, "color": "#BEBEBE", "opacity": 1}, "encoding": {"x": {"field": "mo", "type": "quantitative", "axis": null}, "y": {"field": "value", "type": "quantitative", "axis": null}}},
   {"transform": [{"filter": "datum.method == 'MedTest'"}], "mark": {"type": "point", "shape": "square", "filled": true, "size": 45, "color": "#E3262B", "opacity": 1}, "encoding": {"x": {"field": "mo", "type": "quantitative", "axis": null}, "y": {"field": "value", "type": "quantitative", "axis": null}}},
   {"transform": [{"filter": "datum.method == 'MODIMA'"}], "mark": {"type": "point", "shape": "diamond", "filled": true, "size": 55, "color": "#F2A52F", "opacity": 1}, "encoding": {"x": {"field": "mo", "type": "quantitative", "axis": null}, "y": {"field": "value", "type": "quantitative", "axis": null}}}
  ]
 },
 {
  "width": 162, "height": 162,
  "data": {"name": "power"},
  "transform": [{"filter": "datum.tm == 0.6"}],
  "resolve": {"axis": {"x": "independent", "y": "independent"}},
  "layer": [
   {"mark": {"type": "rule", "color": "#C4C4C4", "strokeWidth": 2, "strokeDash": [7, 5]}, "encoding": {"y": {"datum": 0.05, "axis": null}}},
   {"transform": [{"filter": "datum.method == 'LDM-med-global'"}], "mark": {"type": "line", "strokeWidth": 2, "color": "#000000"},
    "encoding": {
     "x": {"field": "mo", "type": "quantitative", "scale": {"domain": [-0.04, 1.04], "nice": false, "zero": false}, "axis": {"values": [0, 0.2, 0.4, 0.6, 0.8, 1.0], "format": ".1f", "title": "β", "titleX": 76, "titleY": 34, "titleAlign": "center", "titleBaseline": "alphabetic", "titleFontSize": 15, "titleAngle": 0}},
     "y": {"field": "value", "type": "quantitative", "scale": {"domain": [-0.04, 1.04], "nice": false, "zero": false}, "axis": {"values": [0, 0.2, 0.4, 0.6, 0.8, 1.0], "format": ".1f", "title": null}}
    }},
   {"transform": [{"filter": "datum.method == 'LDM-med-global**'"}], "mark": {"type": "line", "strokeWidth": 2, "color": "#BEBEBE"}, "encoding": {"x": {"field": "mo", "type": "quantitative", "axis": null}, "y": {"field": "value", "type": "quantitative", "axis": null}}},
   {"transform": [{"filter": "datum.method == 'MedTest'"}], "mark": {"type": "line", "strokeWidth": 2, "color": "#E3262B"}, "encoding": {"x": {"field": "mo", "type": "quantitative", "axis": null}, "y": {"field": "value", "type": "quantitative", "axis": null}}},
   {"transform": [{"filter": "datum.method == 'MODIMA'"}], "mark": {"type": "line", "strokeWidth": 2, "color": "#F2A52F"}, "encoding": {"x": {"field": "mo", "type": "quantitative", "axis": null}, "y": {"field": "value", "type": "quantitative", "axis": null}}},
   {"transform": [{"filter": "datum.method == 'LDM-med-global'"}],
    "mark": {"type": "point", "shape": "circle", "filled": true, "size": 22, "color": "#000000", "opacity": 1},
    "encoding": {"x": {"field": "mo", "type": "quantitative", "axis": {"orient": "bottom", "title": "MO", "labels": false, "ticks": false, "domain": false, "titleX": 82, "titleY": 37, "titleAlign": "left", "titleBaseline": "alphabetic", "titleFontSize": 9.5, "titleAngle": 0}}, "y": {"field": "value", "type": "quantitative", "axis": null}}},
   {"transform": [{"filter": "datum.method == 'LDM-med-global**'"}], "mark": {"type": "point", "shape": "triangle-down", "filled": true, "size": 45, "color": "#BEBEBE", "opacity": 1}, "encoding": {"x": {"field": "mo", "type": "quantitative", "axis": null}, "y": {"field": "value", "type": "quantitative", "axis": null}}},
   {"transform": [{"filter": "datum.method == 'MedTest'"}], "mark": {"type": "point", "shape": "square", "filled": true, "size": 45, "color": "#E3262B", "opacity": 1}, "encoding": {"x": {"field": "mo", "type": "quantitative", "axis": null}, "y": {"field": "value", "type": "quantitative", "axis": null}}},
   {"transform": [{"filter": "datum.method == 'MODIMA'"}], "mark": {"type": "point", "shape": "diamond", "filled": true, "size": 55, "color": "#F2A52F", "opacity": 1}, "encoding": {"x": {"field": "mo", "type": "quantitative", "axis": null}, "y": {"field": "value", "type": "quantitative", "axis": null}}}
  ]
 }
]
}
